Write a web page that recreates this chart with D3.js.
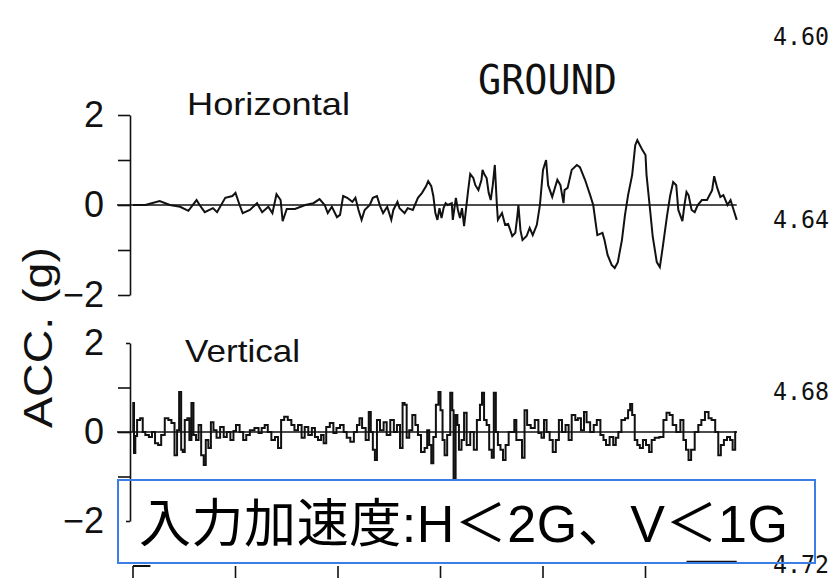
<!DOCTYPE html>
<html>
<head>
<meta charset="utf-8">
<script src="https://cdn.jsdelivr.net/npm/d3@7/dist/d3.min.js"></script>
<style>
  html, body { margin: 0; padding: 0; background: #fff; }
  svg { display: block; }
</style>
</head>
<body>
<script>
// Ground motion record: horizontal and vertical acceleration (g) against time (s)
const hTime = [0,1.2,2.6,3.6,4.6,5.4,6.2,6.5,7.0,7.8,8.2,9.0,9.7,10.0,10.4,10.7,11.4,12.1,12.6,13.2,13.6,14.0,14.4,14.6,15.0,15.8,16.8,17.6,18.2,18.7,19.0,19.4,19.9,20.2,20.5,20.9,21.4,21.7,22.0,22.3,22.6,23.1,23.4,23.8,24.1,24.4,24.8,25.2,25.4,25.8,26.0,26.5,26.8,27.3,27.8,28.2,28.6,28.8,29.1,29.3,29.5,29.7,29.9,30.1,30.3,30.5,30.7,31.1,31.2,31.5,31.7,31.9,32.1,32.3,32.5,32.7,32.9,33.2,33.4,33.7,34.0,34.1,34.3,34.5,34.7,34.9,35.1,35.3,35.5,35.6,36.0,36.3,36.6,37.0,37.3,37.5,37.6,37.8,38.0,38.4,38.7,39.0,39.4,39.7,40.0,40.3,40.5,40.9,41.4,41.7,42.0,42.1,42.4,42.8,43.3,43.6,44.1,44.6,44.9,45.3,45.8,46.0,46.3,46.7,47.0,47.3,47.7,48.0,48.3,48.7,49.0,49.2,49.7,50.0,50.1,50.4,50.7,51.1,51.4,51.7,52.1,52.4,52.7,53.0,53.2,53.6,53.8,54.0,54.2,54.5,54.8,55.1,55.5,56.0,56.5,56.7,57.0,57.3,57.6,58.0,58.3,58.5,58.9];
const hAcc = [0,0,0.09,0,-0.04,-0.13,0.11,0,-0.16,-0.07,-0.16,0.16,0.2,0.27,0,-0.18,-0.11,0.04,-0.16,-0.04,-0.18,0.24,0.11,-0.36,-0.09,-0.09,0,0.04,0.13,0,-0.18,-0.04,-0.27,-0.22,0.2,0.16,0.07,0.16,-0.11,-0.33,-0.11,0,0.16,0.2,-0.02,-0.18,-0.04,-0.33,-0.11,0.07,-0.07,-0.18,-0.07,-0.11,0.16,0.27,0.42,0.53,0.42,0.2,-0.18,-0.33,-0.07,-0.29,-0.07,0.04,0,0.04,-0.33,0.16,-0.11,-0.29,-0.07,-0.47,-0.07,0.33,0.69,0.6,0.44,0.33,0.56,0.78,0.67,0.6,0.27,0.11,0.44,0.89,0,-0.33,-0.18,-0.44,-0.42,-0.69,-0.62,-0.24,0,-0.56,-0.78,-0.69,-0.51,-0.67,-0.44,0,0.78,1.0,0.44,0.18,0.56,0.44,0.04,0.33,0.38,0.78,0.89,0.84,0.56,0.22,0,-0.67,-0.62,-0.78,-1.11,-1.33,-1.4,-1.27,-0.78,-0.22,0.22,0.67,1.33,1.44,1.22,1.11,0.67,0,-0.69,-1.27,-1.38,-0.91,-0.24,0.2,0.51,0.44,-0.11,-0.36,0,0.29,0.22,-0.11,-0.16,0,0.11,0.11,0.33,0.64,0.38,0.18,0.22,0,0.11,-0.04,-0.33];

const vTime = [0,0.05,0.15,0.3,0.5,0.9,1.0,1.4,1.7,2.0,2.3,2.6,2.9,3.3,3.6,3.9,4.2,4.4,4.6,4.8,4.9,5.2,5.4,5.6,5.8,6.0,6.3,6.5,6.8,7.0,7.2,7.5,7.7,8.0,8.3,8.7,9.0,9.3,9.7,9.9,10.2,10.6,10.9,11.2,11.6,12.1,12.4,12.7,13.0,13.3,13.7,14.0,14.3,14.6,14.9,15.3,15.6,15.9,16.3,16.6,16.9,17.3,17.6,17.9,18.2,18.5,18.7,19.0,19.4,19.7,20.0,20.4,20.7,21.0,21.4,21.7,22.0,22.2,22.5,22.9,23.1,23.3,23.5,23.7,23.9,24.3,24.6,24.9,25.3,25.6,25.9,26.2,26.4,26.6,26.8,27.1,27.4,27.7,27.9,28.3,28.6,28.8,29.0,29.2,29.4,29.7,29.9,30.1,30.3,30.5,30.8,31.1,31.2,31.35,31.6,31.7,31.9,32.2,32.4,32.7,33.1,33.4,33.7,34.0,34.1,34.4,34.6,34.9,35.1,35.3,35.5,35.7,36.0,36.2,36.5,36.8,37.1,37.3,37.5,37.8,38.1,38.3,38.6,39.0,39.4,39.7,40.0,40.2,40.5,40.8,41.1,41.4,41.7,42.0,42.4,42.6,43.0,43.3,43.5,43.9,44.1,44.4,44.8,45.1,45.4,45.8,46.0,46.3,46.7,47.0,47.2,47.5,47.8,48.2,48.4,48.6,48.8,49.1,49.3,49.6,49.9,50.2,50.5,50.7,51.1,51.6,51.9,52.2,52.5,52.8,53.2,53.6,53.8,54.1,54.3,54.6,55.0,55.3,55.6,56.0,56.3,56.6,57.0,57.2,57.5,57.8,58.1,58.4,58.6,58.9];
const vAcc = [0,0.65,-0.47,-0.09,0.27,0.31,0,-0.07,-0.11,0,-0.25,-0.29,-0.07,0.31,0.27,0.2,-0.52,0.04,0.9,-0.4,-0.45,0.27,0.31,-0.18,0.65,-0.07,-0.18,0.16,-0.52,-0.74,-0.18,-0.36,0.22,0.04,-0.13,0.11,-0.11,0,-0.18,0.02,0.16,0,-0.18,-0.07,0.04,0.09,-0.02,0.09,0.16,0,-0.18,-0.11,-0.36,0.27,0.34,0.27,0.16,0.04,0.16,-0.13,0.11,-0.07,0.09,-0.11,-0.18,-0.07,-0.25,0.11,0.2,-0.02,0.09,0.16,0,-0.13,-0.22,0,0.16,0.31,0.09,-0.18,0.45,0,-0.4,-0.63,0.27,0.04,0.22,-0.07,0.27,0,0.16,-0.36,0.65,0.61,-0.13,0.04,0.38,0.16,-0.07,-0.45,-0.36,0.04,-0.29,-0.7,-0.11,0.61,0.9,0.49,-0.18,-0.52,-0.07,0.88,0.49,-1.08,0.38,0.16,-0.4,-0.18,0.43,-0.29,0,-0.4,0.27,0.61,0.88,0.27,0.16,-0.4,-0.58,0.88,0,-0.29,-0.4,-0.63,-0.29,0,0,0.27,-0.18,-0.18,-0.58,0.49,0.16,0.09,0.27,-0.02,-0.13,0.27,0,-0.18,-0.45,-0.18,0.27,0,0.16,-0.18,0.38,0.27,0.31,0.04,0.45,0.22,0,0.16,0.27,-0.07,-0.18,-0.29,-0.11,-0.29,-0.13,0,0.27,0.31,0.49,0.63,0.38,-0.18,-0.29,-0.36,-0.18,-0.29,-0.45,-0.18,-0.13,-0.11,0.27,0.43,0.38,0.16,0,0.27,-0.18,-0.4,-0.63,-0.4,0,0.16,0.27,0.45,0.31,0.27,0,-0.52,-0.29,-0.18,-0.11,-0.18,-0.4,0];

const accTicks = [-2, -1, 0, 1, 2];
const accTickLabels = { "-2": "\u22122", "0": "0", "2": "2" };
const timeTicks = [0, 10, 20, 30, 40, 50];
const depthValues = [4.60, 4.64, 4.68, 4.72];
const depthLabels = ["4.60", "4.64", "4.68", "4.72"];

const titleText = "GROUND";
const yAxisTitle = "ACC. (g)";
const panelNames = ["Horizontal", "Vertical"];
const noteText = "入力加速度:H＜2G、V＜1G";

const W = 831, H = 578;
const svg = d3.select("body").append("svg").attr("width", W).attr("height", H);

const x = d3.scaleLinear().domain([0, 60]).range([133, 748]);
const yH = d3.scaleLinear().domain([-2, 2]).range([295, 115]);
const yV = d3.scaleLinear().domain([-2, 2]).range([521, 343]);
const depth = d3.scaleLinear().domain(depthValues).range([37, 220, 392, 565]);

const ink = "#111";
const latin = "'Liberation Sans', Arial, sans-serif";

function drawPanel(yScale, times, values, name, labelBaseline, shortEnds, curve) {
  const g = svg.append("g");
  const axis = d3.axisLeft(yScale)
    .tickValues(accTicks)
    .tickSize(12)
    .tickSizeOuter(0)
    .tickPadding(14)
    .tickFormat(d => accTickLabels[d] || "");
  const ag = g.append("g").attr("transform", "translate(130,0)").call(axis);
  ag.select(".domain").attr("stroke", ink).attr("stroke-width", 1.6);
  ag.selectAll(".tick line").attr("stroke", ink).attr("stroke-width", 1.6)
    .attr("x2", d => (shortEnds && Math.abs(d) === 2) ? -4 : -12);
  ag.selectAll(".tick text")
    .attr("fill", ink)
    .style("font-family", latin)
    .style("font-size", "36px");

  // zero reference line
  g.append("line")
    .attr("x1", 117).attr("x2", x(times[times.length - 1]))
    .attr("y1", yScale(0)).attr("y2", yScale(0))
    .attr("stroke", ink).attr("stroke-width", 1.4);

  const line = d3.line()
    .x((d, i) => x(times[i]))
    .y(d => yScale(d))
    .curve(curve);
  g.append("path")
    .datum(values)
    .attr("d", line)
    .attr("fill", "none")
    .attr("stroke", ink)
    .attr("stroke-width", 2)
    .attr("stroke-linejoin", "miter");

  g.append("text")
    .attr("x", name === "Horizontal" ? 187 : 185)
    .attr("y", labelBaseline)
    .attr("textLength", name === "Horizontal" ? 163 : 115)
    .attr("lengthAdjust", "spacingAndGlyphs")
    .style("font-family", latin)
    .style("font-size", "32px")
    .attr("fill", ink)
    .text(name);
}

// horizontal record: smooth long-period swings; vertical record: held samples
drawPanel(yH, hTime, hAcc, panelNames[0], 115, false, d3.curveLinear);
drawPanel(yV, vTime, vAcc, panelNames[1], 362, true, d3.curveStep);

// title
svg.append("text")
  .attr("x", 478).attr("y", 94)
  .attr("textLength", 139).attr("lengthAdjust", "spacingAndGlyphs")
  .style("font-family", "'DejaVu Sans Mono', monospace")
  .style("font-size", "40px")
  .attr("fill", ink)
  .text(titleText);

// shared y-axis title
svg.append("text")
  .attr("transform", "translate(52,428) rotate(-90)")
  .attr("textLength", 181).attr("lengthAdjust", "spacingAndGlyphs")
  .style("font-family", latin)
  .style("font-size", "40px")
  .attr("fill", ink)
  .text(yAxisTitle);

// depth marks along the right edge
svg.append("g").selectAll("text")
  .data(depthValues)
  .join("text")
  .attr("x", 773)
  .attr("y", d => depth(d))
  .attr("dominant-baseline", "central")
  .attr("textLength", 56).attr("lengthAdjust", "spacingAndGlyphs")
  .style("font-family", "'DejaVu Sans Mono', monospace")
  .style("font-size", "24px")
  .attr("fill", ink)
  .text((d, i) => depthLabels[i]);

// top edge of the next panel (time axis frame)
const frame = svg.append("g");
frame.selectAll("line.tk")
  .data(timeTicks)
  .join("line")
  .attr("class", "tk")
  .attr("x1", d => x(d)).attr("x2", d => x(d))
  .attr("y1", 566).attr("y2", 578)
  .attr("stroke", ink).attr("stroke-width", 1.6);
frame.append("line")
  .attr("x1", x(0)).attr("x2", x(1.7))
  .attr("y1", 566).attr("y2", 566)
  .attr("stroke", ink).attr("stroke-width", 2);
frame.append("line")
  .attr("x1", x(54)).attr("x2", x(58.9))
  .attr("y1", 562).attr("y2", 562)
  .attr("stroke", ink).attr("stroke-width", 2.5);

// annotation box
svg.append("rect")
  .attr("x", 118).attr("y", 480)
  .attr("width", 697).attr("height", 83)
  .attr("fill", "none")
  .attr("stroke", "#3b7fe6")
  .attr("stroke-width", 2);
svg.append("text")
  .attr("x", 139).attr("y", 542)
  .attr("textLength", 649).attr("lengthAdjust", "spacing")
  .style("font-family", "'Liberation Sans', 'Noto Sans CJK JP', sans-serif")
  .style("font-size", "52px")
  .attr("fill", "#000")
  .text(noteText);
</script>
</body>
</html>
